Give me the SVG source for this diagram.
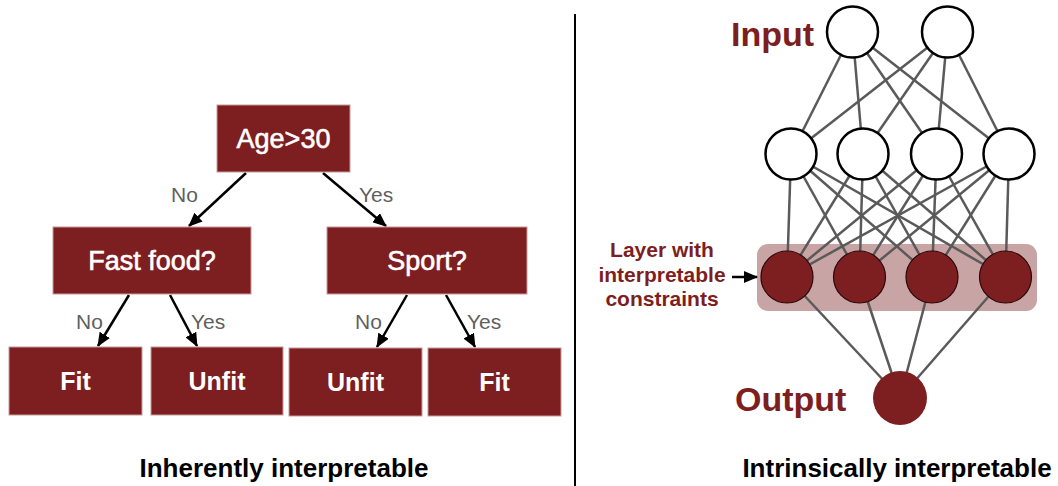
<svg xmlns="http://www.w3.org/2000/svg" width="1058" height="486" viewBox="0 0 1058 486">
<defs>
<style>
.box{fill:#7d1e21;stroke:#c89a9a;stroke-width:1}
.bt{fill:#fff;stroke:#fff;stroke-width:0.6;font-family:"Liberation Sans",Arial,sans-serif;font-size:27px;text-anchor:middle}
.lt{fill:#fff;font-family:"Liberation Sans",Arial,sans-serif;font-size:25px;font-weight:bold;text-anchor:middle}
.el{fill:#5f5f5f;font-family:"Liberation Sans",Arial,sans-serif;font-size:21px}
.edge{stroke:#000;stroke-width:2.5;fill:none}
.nn{stroke:#5a5a5a;stroke-width:2.5}
.wn{fill:#fff;stroke:#000;stroke-width:2.5}
.dn{fill:#7d1e21;stroke:#2a0808;stroke-width:1.2}
.red{fill:#7d1e21;font-family:"Liberation Sans",Arial,sans-serif;font-weight:bold}
.cap{fill:#000;font-family:"Liberation Sans",Arial,sans-serif;font-weight:bold;font-size:26px;text-anchor:middle}
</style>
<marker id="ah" markerUnits="userSpaceOnUse" markerWidth="14" markerHeight="12" refX="13" refY="6" orient="auto">
<path d="M0,0 L14,6 L0,12 z" fill="#000"/>
</marker>
</defs>
<rect width="1058" height="486" fill="#fff"/>

<!-- divider -->
<line x1="575" y1="14" x2="575" y2="486" stroke="#000" stroke-width="2"/>

<!-- tree connectors -->
<g id="tree-edges">
<line class="edge" x1="246" y1="173" x2="189" y2="226" marker-end="url(#ah)"/>
<line class="edge" x1="323" y1="173" x2="386" y2="226" marker-end="url(#ah)"/>
<line class="edge" x1="129" y1="295" x2="98" y2="346" marker-end="url(#ah)"/>
<line class="edge" x1="170" y1="295" x2="197" y2="346" marker-end="url(#ah)"/>
<line class="edge" x1="407" y1="295" x2="377" y2="347" marker-end="url(#ah)"/>
<line class="edge" x1="446" y1="295" x2="475" y2="347" marker-end="url(#ah)"/>
<text class="el" x="171" y="202">No</text>
<text class="el" x="359" y="202">Yes</text>
<text class="el" x="76" y="329">No</text>
<text class="el" x="191" y="329">Yes</text>
<text class="el" x="355" y="329">No</text>
<text class="el" x="467" y="329">Yes</text>
</g>

<g id="age"><rect class="box" x="217" y="105" width="133" height="67"/><text class="bt" x="283.5" y="148">Age&gt;30</text></g>
<g id="fastfood"><rect class="box" x="53" y="227" width="198" height="67"/><text class="bt" x="152" y="270">Fast food?</text></g>
<g id="sport"><rect class="box" x="327" y="227" width="200" height="67"/><text class="bt" x="427" y="270">Sport?</text></g>
<g id="fit1"><rect class="box" x="9" y="347" width="133" height="68"/><text class="lt" x="75.5" y="390">Fit</text></g>
<g id="unfit1"><rect class="box" x="151" y="347" width="132" height="68"/><text class="lt" x="217" y="390">Unfit</text></g>
<g id="unfit2"><rect class="box" x="289" y="348" width="133" height="68"/><text class="lt" x="355.5" y="391">Unfit</text></g>
<g id="fit2"><rect class="box" x="428" y="348" width="133" height="68"/><text class="lt" x="494.5" y="391">Fit</text></g>

<text class="cap" x="284" y="477">Inherently interpretable</text>

<!-- neural network -->
<rect id="highlight" x="757" y="244" width="280" height="67" rx="11" fill="#c9a4a4"/>

<g id="nn-edges" class="nn">
<line x1="852.5" y1="32" x2="791" y2="154"/>
<line x1="852.5" y1="32" x2="863" y2="154"/>
<line x1="852.5" y1="32" x2="936.5" y2="154"/>
<line x1="852.5" y1="32" x2="1009" y2="154"/>
<line x1="947.5" y1="32" x2="791" y2="154"/>
<line x1="947.5" y1="32" x2="863" y2="154"/>
<line x1="947.5" y1="32" x2="936.5" y2="154"/>
<line x1="947.5" y1="32" x2="1009" y2="154"/>
<line x1="791" y1="154" x2="787" y2="277"/>
<line x1="791" y1="154" x2="859.5" y2="277"/>
<line x1="791" y1="154" x2="932" y2="277"/>
<line x1="791" y1="154" x2="1005.5" y2="277"/>
<line x1="863" y1="154" x2="787" y2="277"/>
<line x1="863" y1="154" x2="859.5" y2="277"/>
<line x1="863" y1="154" x2="932" y2="277"/>
<line x1="863" y1="154" x2="1005.5" y2="277"/>
<line x1="936.5" y1="154" x2="787" y2="277"/>
<line x1="936.5" y1="154" x2="859.5" y2="277"/>
<line x1="936.5" y1="154" x2="932" y2="277"/>
<line x1="936.5" y1="154" x2="1005.5" y2="277"/>
<line x1="1009" y1="154" x2="787" y2="277"/>
<line x1="1009" y1="154" x2="859.5" y2="277"/>
<line x1="1009" y1="154" x2="932" y2="277"/>
<line x1="1009" y1="154" x2="1005.5" y2="277"/>
<line x1="787" y1="277" x2="900" y2="398"/>
<line x1="859.5" y1="277" x2="900" y2="398"/>
<line x1="932" y1="277" x2="900" y2="398"/>
<line x1="1005.5" y1="277" x2="900" y2="398"/>
<line x1="732" y1="277" x2="757" y2="277" stroke="#000" stroke-width="2.5" marker-end="url(#ah)"/>
</g>

<g id="in1"><circle class="wn" cx="852.5" cy="32" r="25.5"/></g>
<g id="in2"><circle class="wn" cx="947.5" cy="32" r="25.5"/></g>
<g id="h1"><circle class="wn" cx="791" cy="154" r="25.5"/></g>
<g id="h2"><circle class="wn" cx="863" cy="154" r="25.5"/></g>
<g id="h3"><circle class="wn" cx="936.5" cy="154" r="25.5"/></g>
<g id="h4"><circle class="wn" cx="1009" cy="154" r="25.5"/></g>
<g id="c1"><circle class="dn" cx="787" cy="277" r="26"/></g>
<g id="c2"><circle class="dn" cx="859.5" cy="277" r="26"/></g>
<g id="c3"><circle class="dn" cx="932" cy="277" r="26"/></g>
<g id="c4"><circle class="dn" cx="1005.5" cy="277" r="26"/></g>
<g id="out"><circle cx="900" cy="398" r="27" fill="#7d1e21"/></g>

<text class="red" x="731" y="46" font-size="34">Input</text>
<text class="red" x="735" y="411" font-size="34">Output</text>
<g id="layer-label" class="red" font-size="21" text-anchor="middle">
<text x="662" y="257">Layer with</text>
<text x="662" y="282">interpretable</text>
<text x="662" y="306">constraints</text>
</g>

<text class="cap" x="897" y="477">Intrinsically interpretable</text>
</svg>
